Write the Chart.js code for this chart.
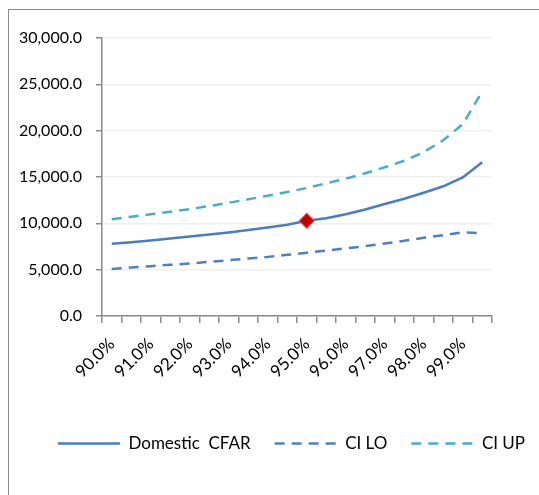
<!DOCTYPE html>
<html>
<head>
<meta charset="utf-8">
<script src="https://cdn.jsdelivr.net/npm/chart.js@4/dist/chart.umd.min.js"></script>
<style>
  html, body { margin: 0; padding: 0; background: #fff; overflow: hidden; }
  #wrap { position: relative; width: 539px; height: 495px; }
  #frame { position: absolute; left: 8px; top: 9px; width: 600px; height: 600px;
           border-left: 1.5px solid #8a8a8a; border-top: 1.5px solid #8a8a8a; }
  #chart { position: absolute; left: 0; top: 0; }
</style>
</head>
<body>
<div id="wrap">
  <div id="frame"></div>
  <canvas id="chart" width="539" height="495"></canvas>
</div>
<script>
// Confidence levels (every half percent); only whole percents get a tick label
const categories = ['90.0%', '90.5%', '91.0%', '91.5%', '92.0%', '92.5%', '93.0%', '93.5%', '94.0%', '94.5%',
                    '95.0%', '95.5%', '96.0%', '96.5%', '97.0%', '97.5%', '98.0%', '98.5%', '99.0%', '99.5%'];

// Cash flow at risk and its confidence interval bounds
const domesticCfar = [7790, 7970, 8150, 8370, 8590, 8800, 9020, 9270, 9560, 9850,
                      10270, 10560, 10990, 11500, 12080, 12650, 13300, 14000, 14950, 16600];
const ciLo = [5080, 5230, 5380, 5520, 5670, 5840, 6020, 6210, 6380, 6600,
              6820, 7070, 7290, 7540, 7830, 8110, 8440, 8730, 9020, 8950];
const ciUp = [10430, 10710, 10970, 11250, 11540, 11860, 12220, 12590, 12980, 13380,
              13810, 14320, 14820, 15400, 16050, 16750, 17690, 18960, 20700, 24230];

// Highlighted level: 95.0%
const markedLevel = '95.0%';

// Value axis
const yMin = 0, yMax = 30000, yStep = 5000;

const markedData = categories.map((c, i) => c === markedLevel ? domesticCfar[i] : null);

Chart.defaults.font.family = 'Lato, "Open Sans", sans-serif';
Chart.defaults.font.size = 16;
Chart.defaults.color = '#000';

const axisGrey = '#898989';

// Nudge the legend row to the right of the canvas centre
const legendShift = {
  id: 'legendShift',
  afterLayout(chart) {
    const dx = chart.options.plugins.legendShift.dx;
    chart.legend.left += dx;
    chart.legend.right += dx;
  }
};

// Legend entries drawn as line samples carrying each series' dash pattern
function lineLegendLabels(chart) {
  return chart.data.datasets
    .map((ds, i) => ({ ds, i }))
    .filter(({ ds }) => ds.showLine !== false)
    .map(({ ds, i }) => ({
      text: ds.label,
      datasetIndex: i,
      fillStyle: ds.borderColor,
      strokeStyle: ds.borderColor,
      lineWidth: ds.borderWidth,
      lineDash: ds.borderDash || [],
      lineCap: 'butt',
      pointStyle: 'line',
      hidden: false,
      fontColor: '#000'
    }));
}

new Chart(document.getElementById('chart'), {
  type: 'line',
  plugins: [legendShift],
  data: {
    labels: categories,
    datasets: [
      {
        label: 'Domestic  CFAR',
        data: domesticCfar,
        borderColor: '#4A7EBB',
        backgroundColor: '#4A7EBB',
        borderWidth: 2.5,
        pointRadius: 0,
        tension: 0
      },
      {
        label: 'CI LO',
        data: ciLo,
        borderColor: '#4F81BD',
        backgroundColor: '#4F81BD',
        borderWidth: 2.5,
        borderDash: [10, 7],
        pointRadius: 0,
        tension: 0
      },
      {
        label: 'CI UP',
        data: ciUp,
        borderColor: '#4BACC6',
        backgroundColor: '#4BACC6',
        borderWidth: 2.5,
        borderDash: [10, 7],
        pointRadius: 0,
        tension: 0
      },
      {
        label: 'marker',
        data: markedData,
        showLine: false,
        pointStyle: 'rectRot',
        pointRadius: 7.5,
        pointHoverRadius: 7.5,
        pointBackgroundColor: '#C00000',
        pointBorderColor: 'rgba(214, 80, 80, 0.85)',
        pointBorderWidth: 1.2,
        order: -1
      }
    ]
  },
  options: {
    responsive: false,
    animation: false,
    devicePixelRatio: 1,
    layout: { padding: { left: 0, right: 0, top: 38, bottom: 33 } },
    plugins: {
      tooltip: { enabled: false },
      legendShift: { dx: 22 },
      legend: {
        position: 'bottom',
        labels: {
          usePointStyle: true,
          pointStyle: 'line',
          pointStyleWidth: 62,
          padding: 24,
          color: '#000',
          font: { size: 17 },
          generateLabels: lineLegendLabels
        }
      }
    },
    scales: {
      x: {
        type: 'category',
        offset: true,
        afterFit: s => { s.height = 95; },
        grid: {
          display: true,
          drawOnChartArea: false,
          drawTicks: true,
          tickLength: 7,
          tickColor: axisGrey,
          lineWidth: 1.5,
          offset: true
        },
        border: { color: axisGrey, width: 1.5 },
        ticks: {
          autoSkip: false,
          minRotation: 45,
          maxRotation: 45,
          padding: 11,
          font: { size: 17 },
          callback: (v, i) => (i % 2 === 0 ? categories[i] : '')
        }
      },
      y: {
        min: yMin,
        max: yMax,
        afterFit: s => { s.width = 102; },
        grid: {
          color: '#EFEFEF',
          lineWidth: 1.5,
          tickColor: axisGrey,
          tickLength: 6
        },
        border: { color: axisGrey, width: 1.5 },
        ticks: {
          stepSize: yStep,
          padding: 14,
          callback: v => v.toLocaleString('en-US', { minimumFractionDigits: 1, maximumFractionDigits: 1 })
        }
      },
      // empty right-hand gutter so the plot stops where the value grid ends
      gutter: {
        type: 'linear',
        position: 'right',
        afterFit: s => { s.width = 47; },
        grid: { display: false, drawTicks: false },
        border: { display: false },
        ticks: { display: false }
      }
    }
  }
});
</script>
</body>
</html>
